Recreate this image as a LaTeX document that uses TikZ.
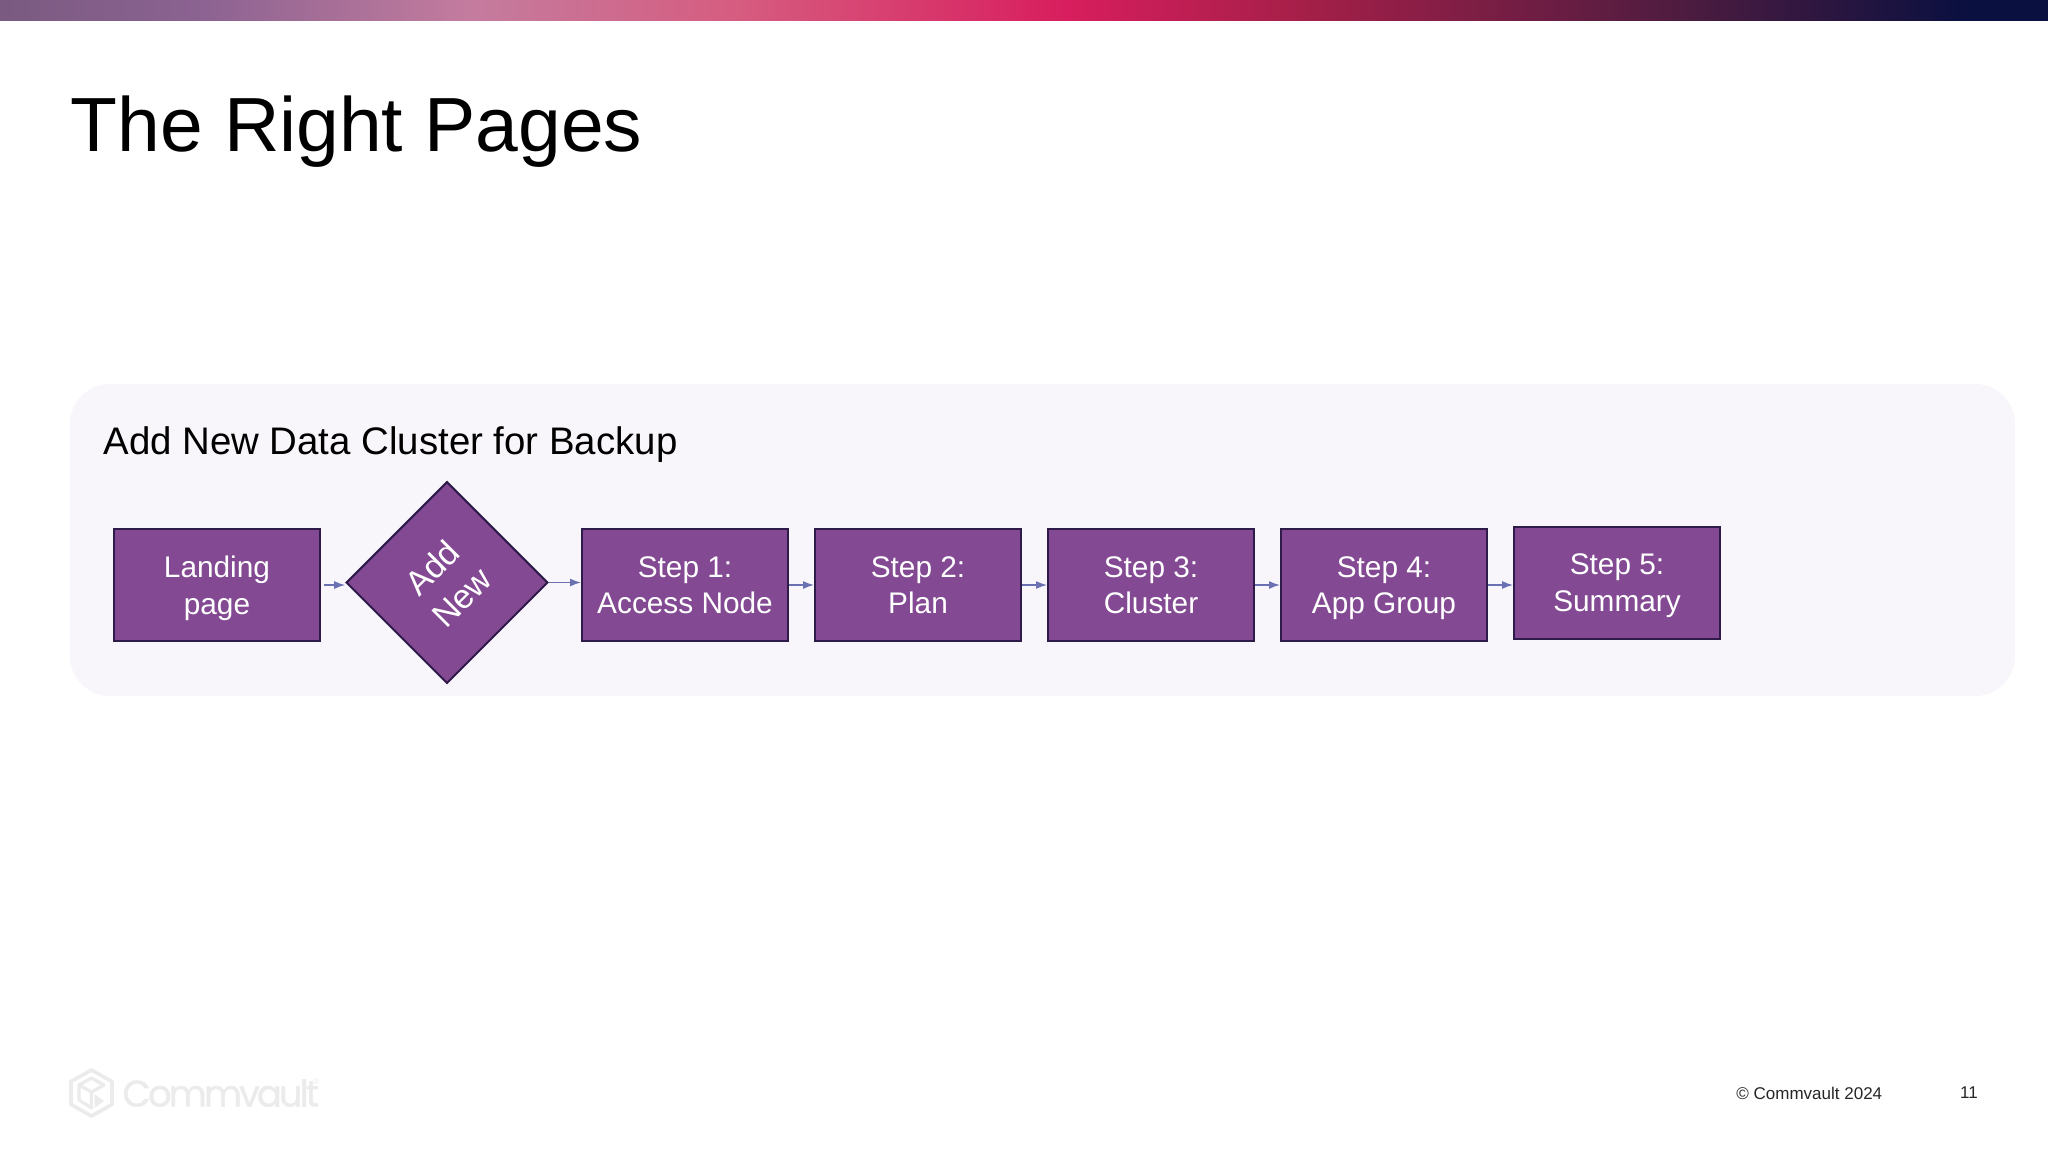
\documentclass[tikz,border=0pt]{standalone}
\usepackage{fontspec}
\setmainfont{Liberation Sans}
\newfontfamily\logofont[LetterSpace=-8,FakeBold=0.8]{Poppins}
\usetikzlibrary{arrows.meta}
\usetikzlibrary{positioning}

\definecolor{stepfill}{HTML}{834A93}
\definecolor{stepedge}{HTML}{2F1B4A}
\definecolor{flowblue}{HTML}{6A70B2}
\definecolor{panelbg}{HTML}{F8F6FB}
\definecolor{logogray}{HTML}{EBEBEB}
\definecolor{footgray}{HTML}{262626}
\definecolor{barA}{HTML}{7A5A80}
\definecolor{barB}{HTML}{8C6392}
\definecolor{barC}{HTML}{C47C9E}
\definecolor{barD}{HTML}{D65C80}
\definecolor{barE}{HTML}{D81E5E}
\definecolor{barF}{HTML}{A31F48}
\definecolor{barG}{HTML}{4E1C40}
\definecolor{barH}{HTML}{0A1040}

\pgfdeclarehorizontalshading{topbar}{100bp}{
  color(0bp)=(barA); color(25bp)=(barA); color(30bp)=(barB); color(36.5bp)=(barC); color(43bp)=(barD);
  color(51bp)=(barE); color(57bp)=(barF); color(66bp)=(barG); color(73bp)=(barH); color(100bp)=(barH)}

\tikzset{
  stepbox/.style={draw=stepedge, fill=stepfill, line width=1pt, text=white, align=center,
    minimum width=103pt, minimum height=56pt, inner sep=0pt,
    font=\fontsize{14.9}{18.2}\selectfont},
  flow/.style={draw=flowblue, line width=.7pt, -{Latex[length=5.5pt,width=4pt]}},
}

\begin{document}
\begin{tikzpicture}[x=.5pt, y=-.5pt]
  \useasboundingbox (0,0) rectangle (2048,1152);
  \fill[white] (0,0) rectangle (2048,1152);

  % top bar
  \shade[shading=topbar] (0,0) rectangle (2048,20);

  \node[anchor=west, inner sep=0pt, font=\fontsize{38.4}{44}\selectfont] (title) at (70,132) {The Right Pages};

  % panel
  \fill[panelbg, rounded corners=20pt] (70,384) rectangle (2015,696);
  \node[anchor=west, inner sep=0pt, font=\fontsize{19.2}{23}\selectfont] (heading) at (103,445) {Add New Data Cluster for Backup};

  % pages
  \node[stepbox] (landing) at (217,585) {Landing\\\smash{page}};
  \node[stepbox, rotate=45, minimum width=71pt, minimum height=71pt, font=\fontsize{17}{20.8}\selectfont] (addnew) at (447,582.5) {Add\\New};
  \node[stepbox] (step1) at (685,585) {Step 1:\\Access Node};
  \node[stepbox] (step2) at (918,585) {Step 2:\\Plan};
  \node[stepbox] (step3) at (1151,585) {Step 3:\\Cluster};
  \node[stepbox] (step4) at (1384,585) {Step 4:\\\smash{App Group}};
  \node[stepbox] (step5) at (1617,582.5) {Step 5:\\\smash{Summary}};

  \draw[flow, shorten <=1.5pt] (landing.east) -- (landing.east -| addnew.north west);
  \draw[flow] (addnew.south east) -- (addnew.south east -| step1.west);
  \foreach \a/\b in {step1/step2,step2/step3,step3/step4,step4/step5}
    \draw[flow] (\a.east) -- (\a.east -| \b.west);

  % logo
  \draw[logogray, line width=1.8pt, line join=round]
    (91.5,1070) -- (112,1081.5) -- (112,1104.5) -- (91.5,1116) -- (71,1104.5) -- (71,1081.5) -- cycle;
  \draw[logogray, line width=1.6pt, line join=round]
    (91.5,1078) -- (104,1085) -- (91.5,1092) -- (79,1085) -- cycle
    (79,1085) -- (79,1100) -- (91.5,1108) -- (91.5,1092);
  \fill[logogray] (94.5,1094) -- (104,1101) -- (94.5,1108) -- cycle;
  \node[anchor=west, inner sep=0pt, text=logogray, font=\logofont\fontsize{18.5}{22}\selectfont] (logotext) at (122,1093) {Commvault};
  \node[inner sep=0pt, text=logogray, font=\fontsize{4}{5}\selectfont] (logomark) at (316,1082) {®};

  % footer
  \node[anchor=west, inner sep=0pt, text=footgray, font=\fontsize{8.5}{10}\selectfont] (copyright) at (1736,1093) {© Commvault 2024};
  \node[inner sep=0pt, text=footgray, font=\fontsize{8.5}{10}\selectfont] (pageno) at (1969,1093) {11};
\end{tikzpicture}
\end{document}
